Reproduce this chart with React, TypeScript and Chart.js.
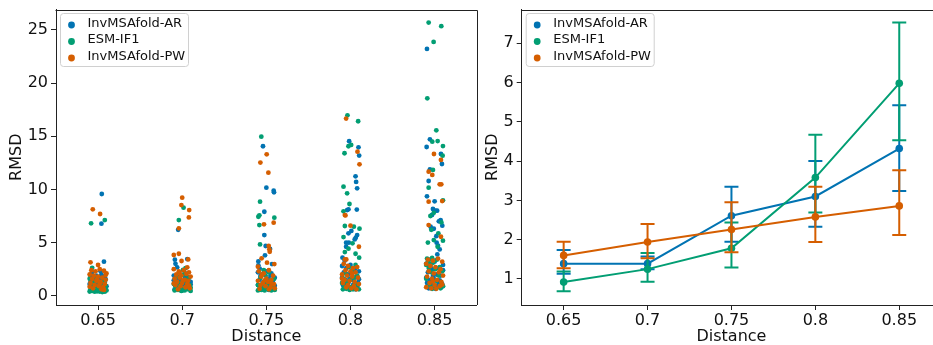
import React, { useEffect, useRef } from 'react';
import { Chart, registerables } from 'chart.js';

Chart.register(...registerables);

const categories = ['0.65', '0.7', '0.75', '0.8', '0.85'];
const seriesNames = ['InvMSAfold-AR', 'ESM-IF1', 'InvMSAfold-PW'];
const leftYTicks = [0, 5, 10, 15, 20, 25];
const rightYTicks = [1, 2, 3, 4, 5, 6, 7];

// Strip plot: per category, list of [jitter offset, RMSD]
const arStrip: number[][][] = [
  [[0.044, 9.57], [0.04, 6.78], [0.07, 3.2], [-0.09, 1.75], [-0.06, 1.5], [-0.02, 1.9], [0.03, 1.6], [0.08, 1.3], [0.1, 0.9], [-0.1, 1.1], [-0.05, 0.8], [0, 1.2], [0.05, 1.0], [0.09, 0.6], [-0.08, 0.55], [-0.03, 0.65], [0.02, 0.75], [0.06, 1.8], [-0.07, 2.2], [0.04, 2.0], [-0.01, 1.4], [0.07, 1.1], [-0.04, 1.05], [0.01, 0.5], [0.09, 1.55], [-0.09, 1.3], [0.05, 0.45], [-0.06, 0.95], [0.03, 2.3], [-0.02, 0.7], [0.08, 0.85]],
  [[-0.048, 6.2], [-0.087, 3.39], [0.06, 3.45], [-0.08, 3.0], [-0.06, 2.67], [-0.1, 1.9], [-0.06, 1.7], [-0.02, 1.5], [0.03, 1.8], [0.07, 1.6], [0.1, 1.3], [-0.08, 1.2], [-0.04, 1.0], [0.01, 1.1], [0.05, 0.9], [0.09, 0.7], [-0.09, 0.6], [-0.03, 0.55], [0.02, 0.65], [0.06, 1.4], [-0.07, 0.8], [0.04, 2.1], [-0.01, 0.75], [0.08, 1.75], [-0.05, 1.35], [0, 0.5], [0.1, 1.05], [-0.1, 1.45], [0.03, 1.25]],
  [[-0.04, 14.06], [0, 10.16], [0.087, 9.88], [0.091, 9.73], [-0.024, 7.9], [-0.024, 5.71], [-0.008, 4.68], [0.044, 4.4], [-0.016, 3.8], [-0.095, 3.23], [-0.095, 2.86], [0.067, 2.98], [-0.079, 2.54], [-0.1, 2.2], [-0.05, 2.0], [0, 2.3], [0.05, 1.9], [0.1, 1.7], [-0.08, 1.5], [-0.03, 1.3], [0.02, 1.6], [0.07, 1.2], [-0.1, 1.0], [-0.06, 0.8], [-0.01, 0.9], [0.04, 1.1], [0.09, 0.7], [-0.04, 0.6], [0.03, 0.55], [0.08, 1.45], [-0.07, 1.85], [0.01, 1.25], [0.06, 2.1], [-0.02, 0.75], [0.1, 0.95]],
  [[-0.016, 14.53], [0.095, 13.96], [0.103, 13.18], [0.06, 11.23], [0.067, 10.7], [0.079, 10.1], [-0.04, 8.06], [-0.024, 8.13], [0.075, 8.1], [0.01, 6.1], [-0.024, 5.87], [0.079, 5.71], [0.063, 5.46], [0.05, 5.3], [-0.052, 4.99], [-0.02, 4.99], [-0.052, 4.61], [-0.095, 3.58], [-0.07, 3.3], [-0.1, 2.8], [-0.05, 2.6], [0, 2.9], [0.05, 2.5], [0.1, 2.3], [-0.08, 2.2], [-0.03, 2.0], [0.02, 2.1], [0.07, 1.8], [-0.1, 1.7], [-0.06, 1.5], [-0.01, 1.6], [0.04, 1.4], [0.09, 1.2], [-0.04, 1.1], [0.03, 1.0], [0.08, 0.9], [-0.07, 0.8], [0.01, 0.7], [0.06, 0.6], [-0.02, 1.3], [0.1, 1.55], [-0.09, 1.0]],
  [[-0.091, 23.21], [-0.056, 14.71], [-0.095, 13.99], [0.075, 13.33], [0.087, 12.39], [-0.056, 11.89], [-0.071, 10.79], [-0.091, 9.35], [0, 8.88], [-0.02, 8.16], [0.01, 8.0], [0.03, 8.0], [-0.03, 7.6], [0.071, 7.12], [0.05, 7.0], [-0.048, 6.49], [-0.01, 6.3], [0.091, 6.59], [0.02, 5.6], [0.024, 4.99], [0.04, 4.7], [0.06, 4.36], [0.032, 3.89], [-0.1, 3.0], [-0.05, 2.8], [0, 3.2], [0.05, 2.6], [0.1, 2.4], [-0.08, 2.2], [-0.03, 2.5], [0.02, 2.0], [0.07, 1.9], [-0.1, 1.7], [-0.06, 1.5], [-0.01, 1.6], [0.04, 1.3], [0.09, 1.1], [-0.04, 1.0], [0.03, 0.9], [0.08, 0.8], [-0.07, 0.7], [0.01, 0.65], [0.06, 1.45], [-0.02, 1.85], [0.1, 2.9], [-0.09, 1.2]],
];

const esmStrip: number[][][] = [
  [[0.08, 7.12], [-0.083, 6.81], [-0.07, 2.63], [-0.1, 0.4], [-0.07, 0.45], [-0.04, 0.38], [-0.01, 0.42], [0.02, 0.4], [0.05, 0.45], [0.08, 0.38], [0.1, 0.5], [-0.09, 0.6], [-0.05, 0.65], [0, 0.55], [0.04, 0.6], [0.07, 0.7], [-0.03, 0.8], [0.09, 0.9], [-0.08, 1.0], [0.01, 1.1], [-0.05, 1.3], [0.06, 1.4], [-0.1, 1.6], [0.03, 0.95], [-0.02, 1.7], [0.08, 1.2], [-0.06, 0.5], [0.05, 0.35]],
  [[0.016, 8.28], [-0.04, 7.12], [0.04, 2.6], [0.01, 2.42], [-0.09, 0.5], [-0.05, 0.55], [-0.01, 0.45], [0.03, 0.5], [0.07, 0.6], [0.1, 0.45], [-0.07, 0.7], [-0.03, 0.8], [0.01, 0.65], [0.05, 0.9], [0.09, 1.0], [-0.1, 1.1], [-0.04, 1.2], [0, 1.3], [0.04, 1.5], [0.08, 1.7], [-0.06, 1.8], [0.02, 2.0], [-0.02, 0.95], [0.06, 1.25], [-0.08, 0.9], [0.1, 0.75]],
  [[-0.06, 14.96], [-0.075, 8.85], [-0.095, 7.43], [-0.083, 7.56], [0.095, 7.34], [-0.083, 6.65], [-0.075, 4.83], [-0.1, 0.5], [-0.06, 0.55], [-0.02, 0.5], [0.02, 0.6], [0.06, 0.5], [0.1, 0.55], [-0.08, 0.7], [-0.04, 0.8], [0, 0.7], [0.04, 0.85], [0.08, 0.75], [-0.1, 1.0], [-0.05, 1.1], [0.01, 1.2], [0.05, 1.4], [0.09, 1.6], [-0.07, 1.7], [-0.01, 1.9], [0.03, 2.2], [-0.03, 2.4], [0.07, 1.05]],
  [[-0.036, 16.97], [0.091, 16.41], [0.008, 14.18], [-0.024, 14.06], [-0.071, 13.4], [-0.083, 10.26], [-0.04, 9.63], [-0.012, 8.63], [-0.083, 7.94], [-0.067, 6.56], [0.04, 6.5], [0.107, 6.31], [-0.083, 5.52], [0.024, 4.93], [-0.024, 4.43], [-0.067, 4.11], [0.06, 3.95], [0.103, 3.58], [-0.09, 0.6], [-0.05, 0.65], [-0.01, 0.55], [0.03, 0.6], [0.07, 0.7], [0.1, 0.6], [-0.07, 0.85], [-0.03, 0.9], [0.01, 0.8], [0.05, 1.0], [0.09, 1.1], [-0.1, 1.2], [-0.04, 1.3], [0, 1.5], [0.04, 1.7], [0.08, 1.9], [-0.06, 2.1], [0.02, 2.4], [-0.02, 2.7], [0.06, 2.9], [-0.08, 1.6]],
  [[-0.071, 25.69], [0.079, 25.35], [-0.012, 23.87], [-0.087, 18.57], [0.02, 15.56], [-0.028, 14.49], [0.036, 14.55], [0.099, 14.08], [0.095, 13.17], [-0.02, 11.83], [-0.071, 10.16], [0.099, 8.97], [-0.01, 7.8], [-0.05, 7.5], [0.08, 6.9], [-0.04, 6.2], [0.044, 5.87], [-0.01, 5.24], [0.099, 5.18], [-0.08, 5.0], [0.036, 4.61], [-0.09, 3.5], [-0.06, 3.4], [-0.03, 3.55], [0, 3.3], [0.03, 3.4], [-0.08, 3.2], [-0.05, 3.0], [-0.02, 3.1], [-0.1, 2.9], [0.06, 2.7], [-0.07, 2.6], [0.01, 2.5], [0.09, 2.3], [-0.04, 2.2], [0.05, 1.9], [-0.1, 1.6], [0.02, 1.4], [0.08, 1.2], [-0.06, 1.0], [0, 0.8], [0.07, 0.7], [-0.03, 0.65], [0.1, 0.9]],
];

const pwStrip: number[][][] = [
  [[-0.063, 8.13], [0.024, 7.69], [-0.09, 3.14], [0, 2.89], [-0.08, 2.4], [-0.03, 2.3], [0.02, 2.5], [0.07, 2.35], [0.1, 2.1], [-0.1, 2.0], [-0.05, 1.9], [0, 1.8], [0.05, 1.7], [0.09, 1.5], [-0.07, 1.6], [-0.02, 1.4], [0.03, 1.3], [0.08, 1.1], [-0.09, 1.2], [-0.04, 1.0], [0.01, 0.9], [0.06, 0.8], [-0.06, 0.7], [0.04, 0.6], [-0.01, 1.55], [0.09, 1.95], [-0.1, 0.85], [0.02, 1.15], [0.07, 0.55]],
  [[0, 9.22], [-0.01, 8.53], [0.083, 8.06], [0.079, 7.37], [-0.04, 6.34], [-0.1, 3.83], [-0.04, 3.95], [0.071, 3.42], [-0.008, 3.27], [0.06, 2.67], [-0.1, 2.5], [-0.04, 2.3], [0.02, 2.4], [0.08, 2.2], [-0.07, 2.0], [-0.01, 1.9], [0.05, 2.05], [0.1, 1.8], [-0.09, 1.6], [-0.03, 1.7], [0.03, 1.5], [0.07, 1.4], [-0.06, 1.3], [0, 1.2], [0.06, 1.1], [-0.08, 1.0], [-0.02, 0.9], [0.04, 0.8], [0.09, 0.7], [-0.05, 0.6], [0.01, 1.45], [-0.1, 1.15], [0.08, 0.95], [-0.03, 2.15]],
  [[0.004, 13.3], [-0.071, 12.52], [0.024, 11.57], [0.087, 6.87], [-0.028, 6.72], [0.028, 4.68], [0.04, 4.14], [0.036, 4.37], [-0.056, 3.52], [0.008, 3.11], [0.095, 2.98], [-0.1, 2.73], [-0.09, 2.3], [-0.03, 2.1], [0.03, 2.4], [0.08, 1.9], [-0.06, 1.8], [0, 1.6], [0.06, 1.5], [-0.1, 1.4], [-0.04, 1.2], [0.02, 1.3], [0.09, 1.1], [-0.07, 1.0], [-0.01, 0.9], [0.05, 0.8], [-0.08, 0.65], [0.03, 0.6], [0.1, 0.7], [-0.02, 1.45], [0.06, 1.15], [-0.05, 2.0]],
  [[-0.052, 16.66], [0.083, 13.55], [0.107, 12.36], [-0.067, 7.59], [-0.06, 7.55], [0, 6.59], [0.1, 4.61], [-0.067, 3.42], [-0.05, 3.42], [-0.08, 3.0], [-0.03, 2.8], [0.03, 2.6], [0.08, 2.7], [-0.06, 2.4], [0, 2.3], [0.06, 2.2], [-0.1, 2.0], [-0.04, 1.9], [0.02, 1.8], [0.09, 1.7], [-0.07, 1.5], [-0.01, 1.4], [0.05, 1.3], [-0.09, 1.2], [-0.03, 1.0], [0.04, 0.9], [0.1, 1.1], [-0.05, 0.8], [0.01, 0.7], [0.07, 0.6], [-0.1, 1.6], [0.02, 2.05]],
  [[-0.008, 13.33], [0.075, 12.77], [-0.071, 11.67], [-0.028, 11.36], [0.06, 10.48], [0.079, 10.48], [0.09, 8.9], [-0.071, 8.85], [-0.071, 6.65], [0.075, 5.55], [-0.08, 3.4], [-0.02, 3.3], [0.04, 3.5], [0.09, 3.2], [-0.1, 3.0], [-0.05, 2.8], [0.01, 2.7], [0.07, 2.5], [-0.07, 2.3], [-0.01, 2.1], [0.05, 2.2], [0.1, 1.9], [-0.09, 1.8], [-0.03, 1.6], [0.03, 1.5], [0.08, 1.3], [-0.06, 1.2], [0, 1.0], [0.06, 0.9], [-0.1, 0.8], [-0.04, 0.7], [0.02, 0.65], [0.09, 1.05], [-0.02, 1.35]],
];

// Point plot: means and confidence intervals
const arMean = [1.39, 1.39, 2.61, 3.1, 4.32];
const arLow = [1.13, 1.25, 1.95, 2.33, 3.24];
const arHigh = [1.74, 1.57, 3.35, 4.0, 5.42];
const esmMean = [0.92, 1.25, 1.78, 3.58, 5.98];
const esmLow = [0.69, 0.93, 1.29, 2.69, 4.53];
const esmHigh = [1.19, 1.66, 2.44, 4.67, 7.53];
const pwMean = [1.6, 1.94, 2.26, 2.58, 2.86];
const pwLow = [1.27, 1.53, 1.68, 1.94, 2.12];
const pwHigh = [1.95, 2.4, 2.95, 3.35, 3.77];

const COLORS = ['#0173b2', '#029e73', '#d55e00'];
const FONT = 'DejaVu Sans';
const AXIS_COLOR = '#222222';
const TEXT_COLOR = '#111111';

const framePlugin = {
  id: 'frame',
  afterDatasetsDraw(chart: any) {
    const { ctx, chartArea: ca } = chart;
    ctx.save();
    ctx.strokeStyle = AXIS_COLOR;
    ctx.lineWidth = 1;
    ctx.beginPath();
    ctx.moveTo(Math.round(ca.left) - 0.5, Math.round(ca.top) + 0.5);
    ctx.lineTo(Math.round(ca.right) + 0.5, Math.round(ca.top) + 0.5);
    ctx.lineTo(Math.round(ca.right) + 0.5, Math.round(ca.bottom));
    ctx.stroke();
    ctx.restore();
  },
};

const legendPlugin = {
  id: 'boxLegend',
  afterDraw(chart: any) {
    const { ctx, chartArea: ca } = chart;
    const x = ca.left + 4.5;
    const y = ca.top + 4;
    const w = 128;
    const h = 53;
    const r = 3;
    ctx.save();
    ctx.beginPath();
    ctx.moveTo(x + r, y);
    ctx.lineTo(x + w - r, y);
    ctx.arcTo(x + w, y, x + w, y + r, r);
    ctx.lineTo(x + w, y + h - r);
    ctx.arcTo(x + w, y + h, x + w - r, y + h, r);
    ctx.lineTo(x + r, y + h);
    ctx.arcTo(x, y + h, x, y + h - r, r);
    ctx.lineTo(x, y + r);
    ctx.arcTo(x, y, x + r, y, r);
    ctx.closePath();
    ctx.fillStyle = 'rgba(255,255,255,0.8)';
    ctx.fill();
    ctx.strokeStyle = '#d0d0d0';
    ctx.lineWidth = 1;
    ctx.stroke();
    ctx.font = `13px '${FONT}'`;
    ctx.textBaseline = 'middle';
    ctx.textAlign = 'left';
    seriesNames.forEach((name, i) => {
      const cy = y + 11.5 + i * 16.5;
      ctx.beginPath();
      ctx.arc(x + 11, cy, 3.4, 0, Math.PI * 2);
      ctx.fillStyle = COLORS[i];
      ctx.fill();
      ctx.fillStyle = TEXT_COLOR;
      ctx.fillText(name, x + 27, cy - 1.5);
    });
    ctx.restore();
  },
};

const errorBarPlugin = {
  id: 'errorBars',
  beforeDatasetDraw(chart: any, args: any) {
    const lows = [arLow, esmLow, pwLow];
    const highs = [arHigh, esmHigh, pwHigh];
    const i = args.index;
    const { ctx } = chart;
    const xs = chart.scales.x;
    const ys = chart.scales.y;
    ctx.save();
    ctx.strokeStyle = COLORS[i];
    ctx.lineWidth = 2;
    categories.forEach((_, ci) => {
      const px = xs.getPixelForValue(ci);
      const y1 = ys.getPixelForValue(lows[i][ci]);
      const y2 = ys.getPixelForValue(highs[i][ci]);
      ctx.beginPath();
      ctx.moveTo(px, y1);
      ctx.lineTo(px, y2);
      ctx.moveTo(px - 7, y1);
      ctx.lineTo(px + 7, y1);
      ctx.moveTo(px - 7, y2);
      ctx.lineTo(px + 7, y2);
      ctx.stroke();
    });
    ctx.restore();
  },
};

function xScale(titleText: string) {
  return {
    type: 'linear' as const,
    min: -0.5,
    max: 4.5,
    afterBuildTicks: (ax: any) => {
      ax.ticks = categories.map((_, i) => ({ value: i }));
    },
    afterFit: (ax: any) => {
      ax.height = 40;
    },
    ticks: {
      callback: (_v: any, idx: number) => categories[idx],
      font: { family: FONT, size: 16, lineHeight: 1.2 },
      color: TEXT_COLOR,
      padding: 1,
      maxRotation: 0,
      autoSkip: false,
    },
    grid: { drawOnChartArea: false, drawTicks: true, tickLength: 5, color: AXIS_COLOR, lineWidth: 1 },
    border: { display: true, color: AXIS_COLOR, width: 1 },
    title: { display: true, text: titleText, font: { family: FONT, size: 16, lineHeight: 1 }, color: TEXT_COLOR, padding: 0 },
  };
}

function yScale(min: number, max: number, ticks: number[], width: number, titlePad: number) {
  return {
    type: 'linear' as const,
    min,
    max,
    afterBuildTicks: (ax: any) => {
      ax.ticks = ticks.map((v) => ({ value: v }));
    },
    afterFit: (ax: any) => {
      ax.width = width;
      ax.paddingTop = 0;
      ax.paddingBottom = 0;
    },
    ticks: {
      callback: (v: any) => String(v),
      font: { family: FONT, size: 16, lineHeight: 1.2 },
      color: TEXT_COLOR,
      padding: 3,
      autoSkip: false,
    },
    grid: { drawOnChartArea: false, drawTicks: true, tickLength: 5, color: AXIS_COLOR, lineWidth: 1 },
    border: { display: true, color: AXIS_COLOR, width: 1 },
    title: { display: true, text: 'RMSD', font: { family: FONT, size: 16, lineHeight: 1 }, color: TEXT_COLOR, padding: { top: titlePad, bottom: 0 } },
  };
}

export default function App() {
  const leftRef = useRef<HTMLCanvasElement>(null);
  const rightRef = useRef<HTMLCanvasElement>(null);

  useEffect(() => {
    const strips = [arStrip, esmStrip, pwStrip];
    const left = new Chart(leftRef.current!, {
      type: 'scatter',
      data: {
        datasets: strips.map((s, i) => ({
          label: seriesNames[i],
          data: s.flatMap((pts, ci) => pts.map(([dx, y]) => ({ x: ci + dx, y }))),
          backgroundColor: COLORS[i],
          borderWidth: 0,
          pointRadius: 2.4,
          pointHoverRadius: 2.4,
          order: 3 - i,
        })),
      },
      options: {
        animation: false,
        responsive: false,
        maintainAspectRatio: false,
        events: [],
        layout: { padding: { left: 0, top: 9.5, right: 3.3, bottom: 0 } },
        plugins: { legend: { display: false }, tooltip: { enabled: false } },
        scales: {
          x: xScale('Distance') as any,
          y: yScale(-0.87, 26.92, leftYTicks, 56, 9) as any,
        },
      },
      plugins: [framePlugin, legendPlugin],
    });

    const means = [arMean, esmMean, pwMean];
    const right = new Chart(rightRef.current!, {
      type: 'line',
      data: {
        datasets: means.map((m, i) => ({
          label: seriesNames[i],
          data: m.map((y, ci) => ({ x: ci, y })),
          borderColor: COLORS[i],
          backgroundColor: COLORS[i],
          pointBackgroundColor: COLORS[i],
          pointBorderWidth: 0,
          pointRadius: 3.8,
          pointHoverRadius: 3.8,
          borderWidth: 2,
          tension: 0,
          fill: false,
          order: 3 - i,
        })),
      },
      options: {
        animation: false,
        responsive: false,
        maintainAspectRatio: false,
        events: [],
        layout: { padding: { left: 0, top: 9.5, right: 3, bottom: 0 } },
        plugins: { legend: { display: false }, tooltip: { enabled: false } },
        scales: {
          x: xScale('Distance') as any,
          y: yScale(0.337, 7.86, rightYTicks, 41.7, 5.3) as any,
        },
      },
      plugins: [framePlugin, errorBarPlugin, legendPlugin],
    });

    return () => {
      left.destroy();
      right.destroy();
    };
  }, []);

  return (
    <div style={{ position: 'absolute', left: 0, top: 0, width: 933, height: 345, overflow: 'hidden', background: '#ffffff' }}>
      <canvas ref={leftRef} width={480} height={345} style={{ position: 'absolute', left: 0, top: 0, width: 480, height: 345 }} />
      <canvas ref={rightRef} width={465} height={345} style={{ position: 'absolute', left: 480, top: 0, width: 465, height: 345 }} />
    </div>
  );
}
